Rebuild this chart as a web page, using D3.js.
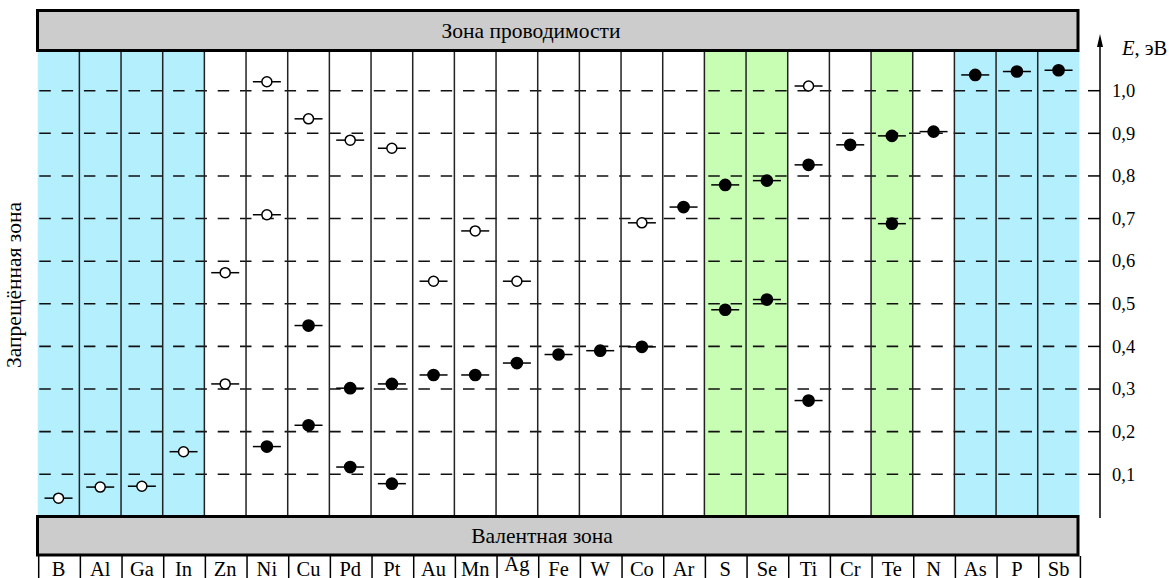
<!DOCTYPE html>
<html>
<head>
<meta charset="utf-8">
<script src="https://cdn.jsdelivr.net/npm/d3@7"></script>
<style>
  body { margin: 0; background: #fff; }
  svg { display: block; font-family: "Liberation Serif", "DejaVu Serif", serif; }
</style>
</head>
<body>
<svg width="1169" height="578"></svg>
<script>
// elements (columns) and their group
const elements = ["B", "Al", "Ga", "In", "Zn", "Ni", "Cu", "Pd", "Pt", "Au", "Mn", "Ag",
  "Fe", "W", "Co", "Ar", "S", "Se", "Ti", "Cr", "Te", "N", "As", "P", "Sb"];
const groups = ["blue", "blue", "blue", "blue", "none", "none", "none", "none", "none", "none",
  "none", "none", "none", "none", "none", "none", "green", "green", "none", "none", "green",
  "none", "blue", "blue", "blue"];

// open circles (acceptor-like levels), eV above valence band
const openLevels = [
  ["B", 0.044], ["Al", 0.07], ["Ga", 0.072], ["In", 0.153],
  ["Zn", 0.573], ["Zn", 0.312],
  ["Ni", 1.021], ["Ni", 0.709],
  ["Cu", 0.934], ["Pd", 0.884], ["Pt", 0.865],
  ["Au", 0.553], ["Mn", 0.671], ["Ag", 0.553], ["Co", 0.69], ["Ti", 1.011]
];
// filled circles (donor-like levels)
const filledLevels = [
  ["Ni", 0.165], ["Cu", 0.449], ["Cu", 0.215],
  ["Pd", 0.302], ["Pd", 0.117], ["Pt", 0.312], ["Pt", 0.078],
  ["Au", 0.333], ["Mn", 0.333], ["Ag", 0.361], ["Fe", 0.381], ["W", 0.39],
  ["Co", 0.399], ["Ar", 0.727], ["S", 0.779], ["S", 0.486], ["Se", 0.789], ["Se", 0.51],
  ["Ti", 0.826], ["Ti", 0.273], ["Cr", 0.873], ["Te", 0.894], ["Te", 0.688],
  ["N", 0.904], ["As", 1.037], ["P", 1.045], ["Sb", 1.048]
];
const ticks = [0.1, 0.2, 0.3, 0.4, 0.5, 0.6, 0.7, 0.8, 0.9, 1.0];
const tickLabels = ["0,1", "0,2", "0,3", "0,4", "0,5", "0,6", "0,7", "0,8", "0,9", "1,0"];

const topText = "Зона проводимости";
const bottomText = "Валентная зона";
const sideText = "Запрещённая зона";

const svg = d3.select("svg");
const fills = { blue: "#b3effd", green: "#c8fdb4", none: "#ffffff" };

const x = d3.scaleBand().domain(elements).range([37.7, 1079.4]).padding(0);
const y = d3.scaleLinear().domain([0, 1]).range([516.9, 90.7]);
const plotTop = 51;
const plotBottom = 516.9;

// column fills
svg.append("g")
  .selectAll("rect")
  .data(elements)
  .enter()
  .append("rect")
  .attr("x", (d) => x(d))
  .attr("y", plotTop)
  .attr("width", x.bandwidth())
  .attr("height", plotBottom - plotTop)
  .attr("fill", (d, i) => fills[groups[i]]);

// dashed grid lines
svg.append("g")
  .selectAll("line")
  .data(ticks)
  .enter()
  .append("line")
  .attr("x1", 39.3)
  .attr("x2", x.range()[1])
  .attr("y1", (d) => y(d))
  .attr("y2", (d) => y(d))
  .attr("stroke", "#111")
  .attr("stroke-width", 1.6)
  .attr("stroke-dasharray", "11.5,10.8");

// column separators
svg.append("g")
  .selectAll("line")
  .data(elements.slice(1))
  .enter()
  .append("line")
  .attr("x1", (d) => x(d))
  .attr("x2", (d) => x(d))
  .attr("y1", plotTop)
  .attr("y2", plotBottom)
  .attr("stroke", "#222")
  .attr("stroke-width", 1.5);

// conduction band
svg.append("rect")
  .attr("x", 37.5).attr("y", 10.5)
  .attr("width", 1040.5).attr("height", 40)
  .attr("fill", "#cccccc").attr("stroke", "#000").attr("stroke-width", 3);
svg.append("text")
  .attr("x", 531).attr("y", 38)
  .attr("text-anchor", "middle")
  .attr("font-size", 21.5)
  .text(topText);

// valence band
svg.append("rect")
  .attr("x", 37.5).attr("y", 516.5)
  .attr("width", 1040.5).attr("height", 38.5)
  .attr("fill", "#cccccc").attr("stroke", "#000").attr("stroke-width", 3);
svg.append("text")
  .attr("x", 542).attr("y", 543)
  .attr("text-anchor", "middle")
  .attr("font-size", 21.5)
  .text(bottomText);

// element labels row
const labelRow = svg.append("g");
labelRow.selectAll("line")
  .data(elements.concat(["end"]))
  .enter()
  .append("line")
  .attr("x1", (d, i) => x.range()[0] + i * x.bandwidth() + 1)
  .attr("x2", (d, i) => x.range()[0] + i * x.bandwidth() + 1)
  .attr("y1", 556)
  .attr("y2", 578)
  .attr("stroke", "#000")
  .attr("stroke-width", 1.5);
labelRow.selectAll("text")
  .data(elements)
  .enter()
  .append("text")
  .attr("x", (d) => x(d) + x.bandwidth() / 2)
  .attr("y", (d) => (d === "Ag" ? 571 : 576))
  .attr("text-anchor", "middle")
  .attr("font-size", 20.5)
  .text((d) => d);

// levels
function drawLevels(data, filled) {
  const g = svg.append("g")
    .selectAll("g")
    .data(data)
    .enter()
    .append("g")
    .attr("transform", (d) => `translate(${x(d[0]) + x.bandwidth() / 2},${y(d[1])})`);
  g.append("line")
    .attr("x1", -14).attr("x2", 14)
    .attr("stroke", "#000").attr("stroke-width", 1.5);
  g.append("circle")
    .attr("r", filled ? 5.6 : 5)
    .attr("fill", filled ? "#000" : "#fff")
    .attr("stroke", "#000")
    .attr("stroke-width", 1.5);
}
drawLevels(openLevels, false);
drawLevels(filledLevels, true);

// energy axis
const axisX = 1100;
svg.append("line")
  .attr("x1", axisX).attr("x2", axisX)
  .attr("y1", 40).attr("y2", 518)
  .attr("stroke", "#000").attr("stroke-width", 1.5);
svg.append("path")
  .attr("d", `M${axisX},34 L${axisX - 3},47 L${axisX + 3},47 Z`)
  .attr("fill", "#000");
const axisG = svg.append("g")
  .selectAll("g")
  .data(ticks)
  .enter()
  .append("g")
  .attr("transform", (d) => `translate(0,${y(d)})`);
axisG.append("line")
  .attr("x1", 1088).attr("x2", axisX)
  .attr("stroke", "#000").attr("stroke-width", 1.5);
axisG.append("text")
  .attr("x", 1112).attr("dy", "0.34em")
  .attr("font-size", 18.5)
  .text((d, i) => tickLabels[i]);

const eLabel = svg.append("text")
  .attr("x", 1122).attr("y", 55)
  .attr("font-size", 20.5);
eLabel.append("tspan").attr("font-style", "italic").text("E");
eLabel.append("tspan").text(", эВ");

// side label
svg.append("text")
  .attr("transform", "translate(21,285) rotate(-90)")
  .attr("text-anchor", "middle")
  .attr("font-size", 21.5)
  .text(sideText);
</script>
</body>
</html>
